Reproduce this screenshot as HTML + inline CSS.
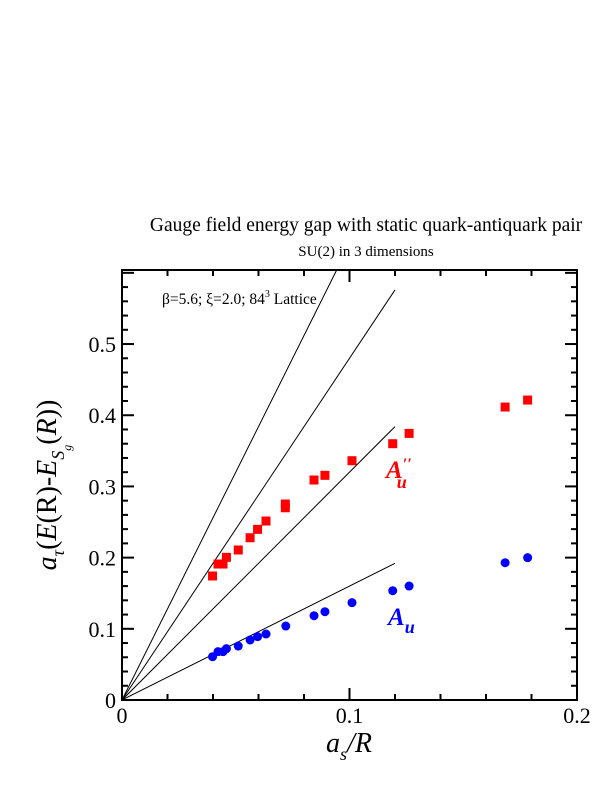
<!DOCTYPE html>
<html><head><meta charset="utf-8"><style>
html,body{margin:0;padding:0;background:#fff;}
svg{display:block;font-family:"Liberation Serif",serif;}
</style></head><body>
<svg width="612" height="792" viewBox="0 0 612 792" id="chart">
<text x="366" y="231" font-size="19.5" text-anchor="middle">Gauge field energy gap with static quark-antiquark pair</text>
<text x="366" y="256" font-size="15" text-anchor="middle">SU(2) in 3 dimensions</text>
<g id="plot"></g>
<rect x="122" y="270" width="455" height="430" fill="none" stroke="#000" stroke-width="2"/>
<text x="162" y="304" font-size="15.5">β=5.6;  ξ=2.0; 84<tspan font-size="10" dy="-7">3</tspan><tspan dy="7"> Lattice</tspan></text>
<text x="386" y="478" font-size="25" font-style="italic" font-weight="bold" fill="#f00">A<tspan font-size="16" dy="-9">′′</tspan><tspan font-size="18" dx="-15" dy="19">u</tspan></text>
<text x="388" y="625" font-size="25" font-style="italic" font-weight="bold" fill="#0000ff">A<tspan font-size="18" dy="8">u</tspan></text>
<text x="349" y="752" font-size="28" font-style="italic" text-anchor="middle">a<tspan font-size="18" dy="8">s</tspan><tspan dy="-8">/R</tspan></text>
<text transform="translate(56,485) rotate(-90)" font-size="28" text-anchor="middle"><tspan font-style="italic">a</tspan><tspan font-size="18" font-style="italic" dy="8">τ</tspan><tspan dy="-8">(</tspan><tspan font-style="italic">E</tspan>(R)-<tspan font-style="italic">E</tspan><tspan font-size="18" font-style="italic" dy="8">S</tspan><tspan font-size="12" font-style="italic" dy="7">g</tspan><tspan dy="-15">(</tspan><tspan font-style="italic">R</tspan>))</text>
</svg>
<script>
const xTicks=[0,0.1,0.2];
const xTickLabels=["0","0.1","0.2"];
const yTicks=[0,0.1,0.2,0.3,0.4,0.5];
const yTickLabels=["0","0.1","0.2","0.3","0.4","0.5"];
const slopes=[1.6,3.2,4.8,6.4];
const lineXEnd=0.12;
const auX=[0.0398,0.0422,0.0444,0.0459,0.0511,0.0563,0.0596,0.0633,0.072,0.0844,0.0892,0.1011,0.119,0.1262,0.1684,0.1783];
const auY=[0.0608,0.0679,0.0679,0.0721,0.0758,0.0843,0.089,0.0927,0.1039,0.1184,0.124,0.1367,0.1535,0.1601,0.1928,0.1999];
const appX=[0.0398,0.0422,0.0444,0.0459,0.0511,0.0563,0.0596,0.0633,0.0718,0.0718,0.0844,0.0892,0.1011,0.119,0.1262,0.1684,0.1783];
const appY=[0.1742,0.191,0.191,0.2004,0.2107,0.2279,0.2397,0.2514,0.2753,0.270,0.309,0.3156,0.3361,0.36,0.3745,0.4115,0.4213];
const X0=122,X1=577,Y0=700,Y1=270,XMAX=0.2,YMAX=0.604;
const sx=v=>X0+v/XMAX*(X1-X0);
const sy=v=>Y0-v/YMAX*(Y0-Y1);
const NS="http://www.w3.org/2000/svg";
const g=document.getElementById('plot');
function mk(t,a){const e=document.createElementNS(NS,t);for(const k in a)e.setAttribute(k,a[k]);g.appendChild(e);return e;}
for(let i=0;i<=10;i++){const v=i*0.02,x=sx(v),maj=i%5===0,L=maj?12:6;
 const t1=mk('line',{x1:x,y1:Y0,x2:x,y2:Y0-L,stroke:'#000','stroke-width':2});
 
 
 const t2=mk('line',{x1:x,y1:Y1,x2:x,y2:Y1+L,stroke:'#000','stroke-width':2});
 
 }
for(let i=0;i<=30;i++){const v=i*0.02;if(v>YMAX)break;const y=sy(v),maj=i%5===0,L=maj?12:6;
 const t1=mk('line',{x1:X0,y1:y,x2:X0+L,y2:y,stroke:'#000','stroke-width':2});
 
 
 const t2=mk('line',{x1:X1,y1:y,x2:X1-L,y2:y,stroke:'#000','stroke-width':2});
 
 }
xTicks.forEach((v,i)=>{const t=mk('text',{x:sx(v),y:Y0+23,'font-size':22,'text-anchor':'middle'});t.textContent=xTickLabels[i];
 
 });
yTicks.forEach((v,i)=>{const t=mk('text',{x:X0-6,y:sy(v)+8,'font-size':22,'text-anchor':'end'});t.textContent=yTickLabels[i];
 
 });
slopes.forEach(s=>{let xe=lineXEnd,ye=s*xe;if(ye>YMAX){ye=YMAX;xe=YMAX/s;}
 const l=mk('line',{x1:sx(0),y1:sy(0),x2:sx(xe),y2:sy(ye),stroke:'#000','stroke-width':1});
 
 });
appX.forEach((x,i)=>{const r=mk('rect',{x:sx(x)-4.5,y:sy(appY[i])-4.5,width:9,height:9,fill:'#f00'});
 
 });
auX.forEach((x,i)=>{const c=mk('circle',{cx:sx(x),cy:sy(auY[i]),r:4.5,fill:'#0000ff'});
 
 });
</script>
</body></html>
